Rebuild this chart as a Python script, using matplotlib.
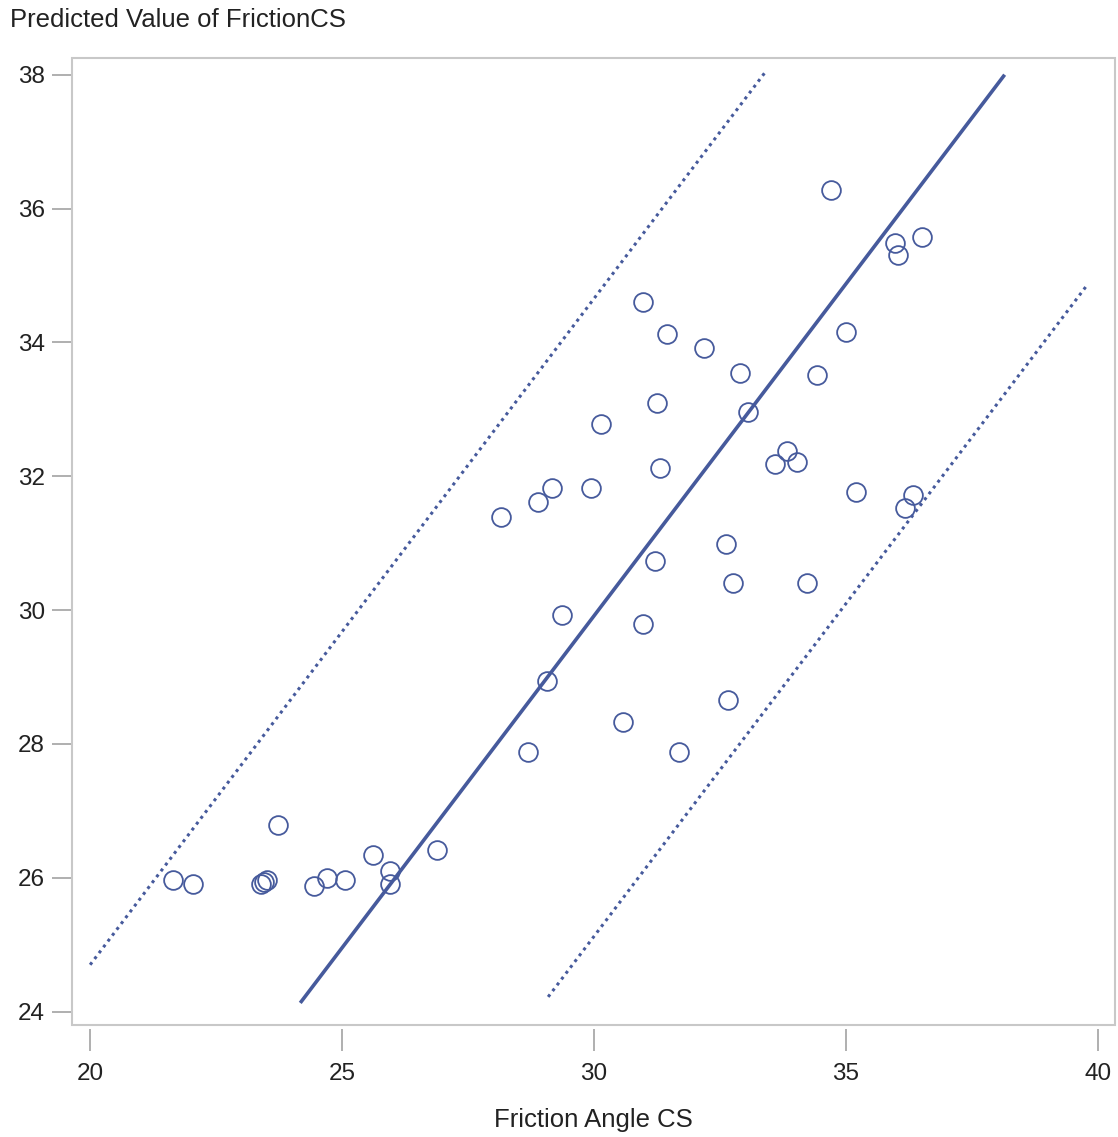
import matplotlib
matplotlib.use('Agg')
import matplotlib.pyplot as plt
from matplotlib.patches import Rectangle

plt.rcParams['font.family'] = ['Liberation Sans', 'DejaVu Sans']

# observed points: friction angle CS vs predicted value
friction_angle = [34.70, 35.97, 36.03, 36.51, 30.97, 31.45, 32.18, 35.00, 32.90, 34.42,
                  31.25, 33.06, 30.14, 33.83, 33.59, 34.03, 31.31, 29.17, 29.94, 28.89,
                  28.15, 35.20, 36.33, 36.17, 32.62, 31.21, 32.76, 34.23, 29.37, 30.97,
                  29.07, 32.66, 30.58, 28.69, 31.69, 23.73, 25.62, 26.88, 25.95, 25.95,
                  21.65, 22.04, 23.39, 23.45, 23.52, 24.44, 24.70, 25.06]
predicted = [36.28, 35.49, 35.30, 35.58, 34.61, 34.13, 33.91, 34.16, 33.55, 33.51,
             33.10, 32.96, 32.78, 32.37, 32.19, 32.22, 32.12, 31.82, 31.82, 31.61,
             31.39, 31.76, 31.72, 31.52, 30.99, 30.73, 30.40, 30.40, 29.93, 29.79,
             28.94, 28.66, 28.33, 27.88, 27.88, 26.79, 26.34, 26.42, 26.10, 25.91,
             25.96, 25.91, 25.90, 25.93, 25.96, 25.88, 25.99, 25.96]

# fit line and prediction limits (end points)
fit_x = [24.17, 38.15]
fit_y = [24.13, 38.00]
upper_x = [20.00, 33.39]
upper_y = [24.70, 38.03]
lower_x = [29.09, 39.80]
lower_y = [24.22, 34.87]

xticks = [20, 25, 30, 35, 40]
yticks = [24, 26, 28, 30, 32, 34, 36, 38]

blue = '#465a9c'

fig = plt.figure(figsize=(11.18, 11.37), dpi=100)
ax = fig.add_axes([72 / 1118, 1 - 1025 / 1137, (1115 - 72) / 1118, (1025 - 58) / 1137])

ax.plot(upper_x, upper_y, color=blue, lw=2.2, linestyle=(0, (1, 1.4)))
ax.plot(lower_x, lower_y, color=blue, lw=2.2, linestyle=(0, (1, 1.4)))
ax.plot(fit_x, fit_y, color=blue, lw=2.6, solid_capstyle='butt')
ax.plot(friction_angle, predicted, 'o', mfc='none', mec=blue, ms=13.5, mew=1.3)

ax.set_xlim(19.64, 40.34)
ax.set_ylim(23.8, 38.25)
ax.set_xticks(xticks)
ax.set_yticks(yticks)

for s in ax.spines.values():
    s.set_visible(False)
ax.spines['bottom'].set_position(('outward', 3))
ax.add_patch(Rectangle((0, 0), 1, 1, transform=ax.transAxes, fill=False,
                       edgecolor='#c8c8c8', lw=1.5, clip_on=False, zorder=5))

ax.tick_params(axis='x', length=16, width=1.1, color='#9a9a9a', pad=8,
               labelsize=17.5, labelcolor='#222222')
ax.tick_params(axis='y', length=14.5, width=1.1, color='#9a9a9a', pad=5,
               labelsize=17.5, labelcolor='#222222')

ax.set_xlabel('Friction Angle CS', fontsize=18.5, color='#222222', labelpad=17)
fig.text(10 / 1118, 1 - 20 / 1137, 'Predicted Value of FrictionCS', fontsize=18.5,
         color='#222222', ha='left', va='center')

fig.savefig('out.png', dpi=100)
